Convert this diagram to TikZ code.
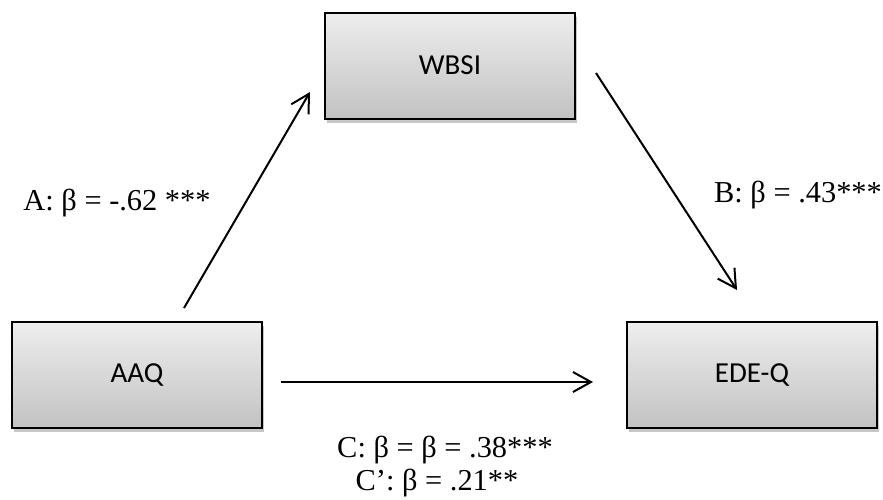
\documentclass[tikz,border=0pt]{standalone}
\usepackage{fontspec}
\setmainfont{Liberation Serif}
\newfontfamily\boxfont{Carlito}
\usetikzlibrary{arrows.meta,positioning,shadows}
\definecolor{boxtop}{HTML}{EEEEEE}
\definecolor{boxbottom}{HTML}{C2C2C2}
\tikzset{
    %Define standard arrow tip
    >={Straight Barb[length=9pt,width=10pt]},
    %Define style for boxes
    measure/.style={
           rectangle,
           draw=black, line width=1pt,
           minimum width=125pt,
           minimum height=53pt,
           font=\boxfont\fontsize{14.5}{17}\selectfont,
           text centered,
           top color=boxtop, bottom color=boxbottom,
           drop shadow={shadow xshift=1pt, shadow yshift=-2pt, fill=black, opacity=0.22}},
    % Define style for coefficients
    coef/.style={
           font=\fontsize{15.2}{18}\selectfont,
           inner sep=0pt},
    % Define arrow style
    pil/.style={
           ->,
           line width=1pt}
}

\begin{document}
\begin{tikzpicture}[x=0.5pt, y=-0.5pt]
\useasboundingbox (0,0) rectangle (883,499);
\node[measure](WBSI) at (450,65.5){WBSI};
\node[measure](AAQ) at (137,375){AAQ};
\node[measure, right=181.5pt of AAQ](EDEQ){EDE-Q};
% arrow end points
\coordinate (a0) at ([shift={(47,-13)}]AAQ.north);
\coordinate (a1) at ([shift={(-14,26.5)}]WBSI.west);
\coordinate (b0) at ([shift={(20,7.5)}]WBSI.east);
\coordinate (b1) at ([shift={(-15,-31)}]EDEQ.north);
\coordinate (c0) at ([shift={(18,7)}]AAQ.east);
\coordinate (c1) at ([shift={(-33,7)}]EDEQ.west);
\path[pil]
	(a0) edge (a1)
	(b0) edge (b1)
	(c0) edge (c1);
% coefficients
\node[coef](betaA) at (117,203){A: β = -.62 ***};
\node[coef](betaB) at (798,195){B: β = .43***};
\node[coef](betaC) at (445,450){C: β = β = .38***};
\node[coef](betaCp) at (437,483){C’: β = .21**};
\end{tikzpicture}
\end{document}
